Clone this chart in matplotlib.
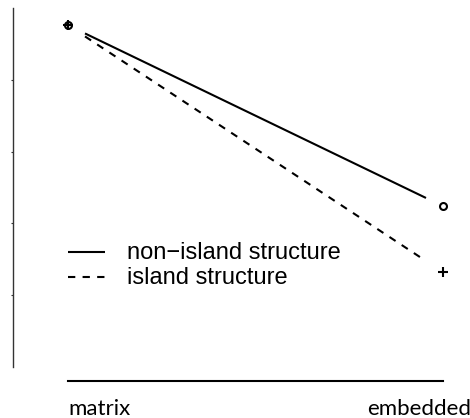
import matplotlib
matplotlib.use('Agg')
import matplotlib.pyplot as plt
import numpy as np

# interaction plot: position x structure
levels = ['matrix', 'embedded']
series_names = ['non\u2212island structure', 'island structure']
non_island = [4.38, 3.12]
island = [4.38, 2.66]
yticks = [2.5, 3.0, 3.5, 4.0]

fig = plt.figure(figsize=(4.7, 4.18), dpi=100)
ax = fig.add_axes([13/470, 37/418, 457/470, 373/418])

x = np.arange(1, len(levels) + 1)
gap = 17/375  # R type="b" leaves a gap around the points

def gapped(ys, style, marker, ms):
    ys = np.asarray(ys)
    kw = dict(color='black', lw=1.5, solid_capstyle='butt', dash_capstyle='butt')
    if style == '--':
        kw['dashes'] = (3.5, 3.5)
    for i in range(len(x) - 1):
        x0, x1 = x[i], x[i+1]
        y0, y1 = ys[i], ys[i+1]
        ax.plot([x0 + gap*(x1-x0), x1 - gap*(x1-x0)],
                [y0 + gap*(y1-y0), y1 - gap*(y1-y0)], **kw)
    ax.plot(x, ys, linestyle='none', marker=marker, color='black',
            markersize=ms, markerfacecolor='none', markeredgewidth=1.5)

gapped(non_island, '-', 'o', 5)
gapped(island, '--', '+', 7.5)

# legend drawn like R's legend(bty="n")
leg_x = [1.0, 1.0987]
leg_text_x = 1.157
leg_line_y = [2.803, 2.628]
leg_base_y = [2.753, 2.58]
ax.plot(leg_x, [leg_line_y[0]]*2, color='black', lw=1.5, solid_capstyle='butt')
ax.plot(leg_x, [leg_line_y[1]]*2, color='black', lw=1.5,
        dashes=(3.5, 3.5), dash_capstyle='butt')
for name, yb in zip(series_names, leg_base_y):
    ax.text(leg_text_x, yb, name, fontsize=17, family='Liberation Sans',
            va='baseline', ha='left')

# category labels under the x line
ax.text(1.0, 1.667, levels[0], fontsize=16, family='Lato', va='baseline',
        ha='left', clip_on=False)
ax.text(1.797, 1.667, levels[1], fontsize=16, family='Lato', va='baseline',
        ha='left', clip_on=False)

ax.set_xlim(0.8533, 2.072)
ax.set_ylim(1.9025, 4.5)
ax.set_xticks([])
ax.set_yticks(yticks)
ax.set_yticklabels([])
ax.tick_params(axis='y', length=1.5, width=0.8, color='#333333')
ax.spines['top'].set_visible(False)
ax.spines['right'].set_visible(False)
ax.spines['left'].set_bounds(2.0, 4.5)
ax.spines['left'].set_color('#333333')
ax.spines['left'].set_linewidth(1.0)
ax.spines['bottom'].set_bounds(1, 2)
ax.spines['bottom'].set_linewidth(1.5)

fig.savefig('out.png', dpi=100)
